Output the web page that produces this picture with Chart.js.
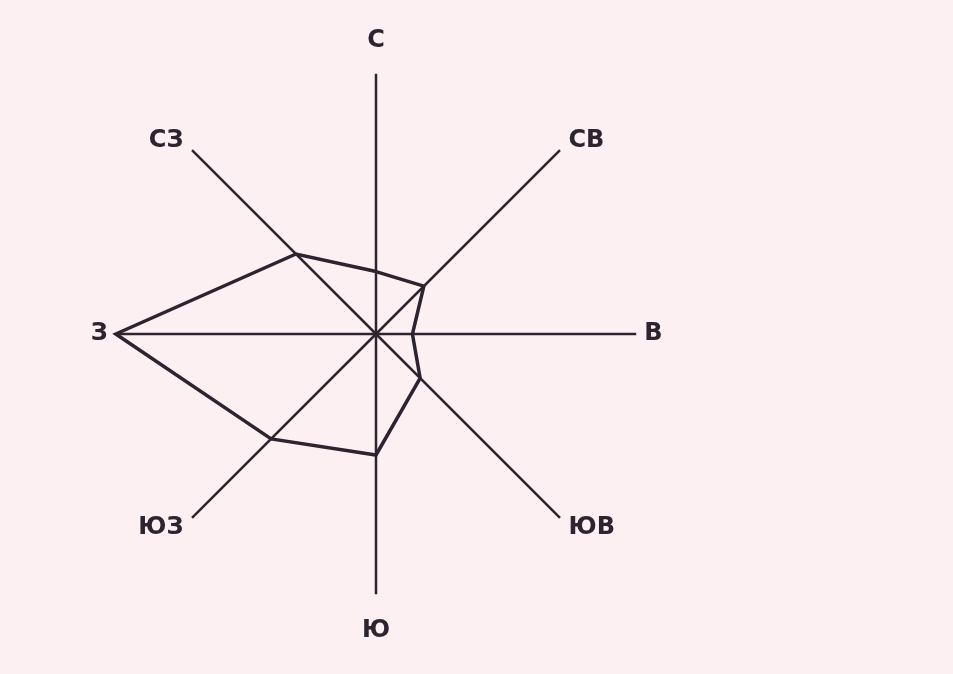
<!DOCTYPE html>
<html>
<head>
<meta charset="utf-8">
<script src="https://cdn.jsdelivr.net/npm/chart.js@4/dist/chart.umd.min.js"></script>
<style>
    html, body { margin: 0; padding: 0; background: #fcf0f2; }
    canvas { display: block; }
</style>
</head>
<body>
<canvas id="rozaVetrov" width="953" height="674"></canvas>
<script>
// румбы (по часовой стрелке от севера)
const napravleniya = ['С', 'СВ', 'В', 'ЮВ', 'Ю', 'ЮЗ', 'З', 'СЗ'];
// повторяемость ветра
const povtoryaemost = [4.8, 5.2, 2.8, 4.8, 9.3, 11.4, 20, 8.7];
const maksimum = 20;

const cvetLinii = '#2d2430';

// отступ подписи от конца оси: С, СВ, В, ЮВ, Ю, ЮЗ, З, СЗ
const otstupPodpisi = [19, 12, 8, 12, 22, 12, 8, 12];

const ctx = document.getElementById('rozaVetrov').getContext('2d');
new Chart(ctx, {
    type: 'radar',
    data: {
        labels: napravleniya,
        datasets: [{
            data: povtoryaemost,
            borderColor: cvetLinii,
            borderWidth: 3.5,
            backgroundColor: 'transparent',
            fill: false,
            pointRadius: 0,
            pointHoverRadius: 0,
            tension: 0
        }]
    },
    options: {
        responsive: false,
        animation: false,
        devicePixelRatio: 1,
        layout: {
            padding: { left: 0, right: 201, top: 25, bottom: 27 }
        },
        scales: {
            r: {
                min: 0,
                max: maksimum,
                grid: { display: false },
                angleLines: {
                    display: true,
                    color: cvetLinii,
                    lineWidth: 2.5
                },
                ticks: { display: false },
                pointLabels: {
                    color: cvetLinii,
                    padding: (c) => otstupPodpisi[c.index],
                    font: (c) => ({
                        family: '"DejaVu Sans", sans-serif',
                        size: 24,
                        weight: 'bold',
                        // диагональные подписи — по центру конца оси
                        lineHeight: c.index % 2 === 1 ? 0.1 : 1.2
                    })
                }
            }
        },
        plugins: {
            legend: { display: false },
            tooltip: { enabled: false },
            title: { display: false }
        }
    }
});
</script>
</body>
</html>
